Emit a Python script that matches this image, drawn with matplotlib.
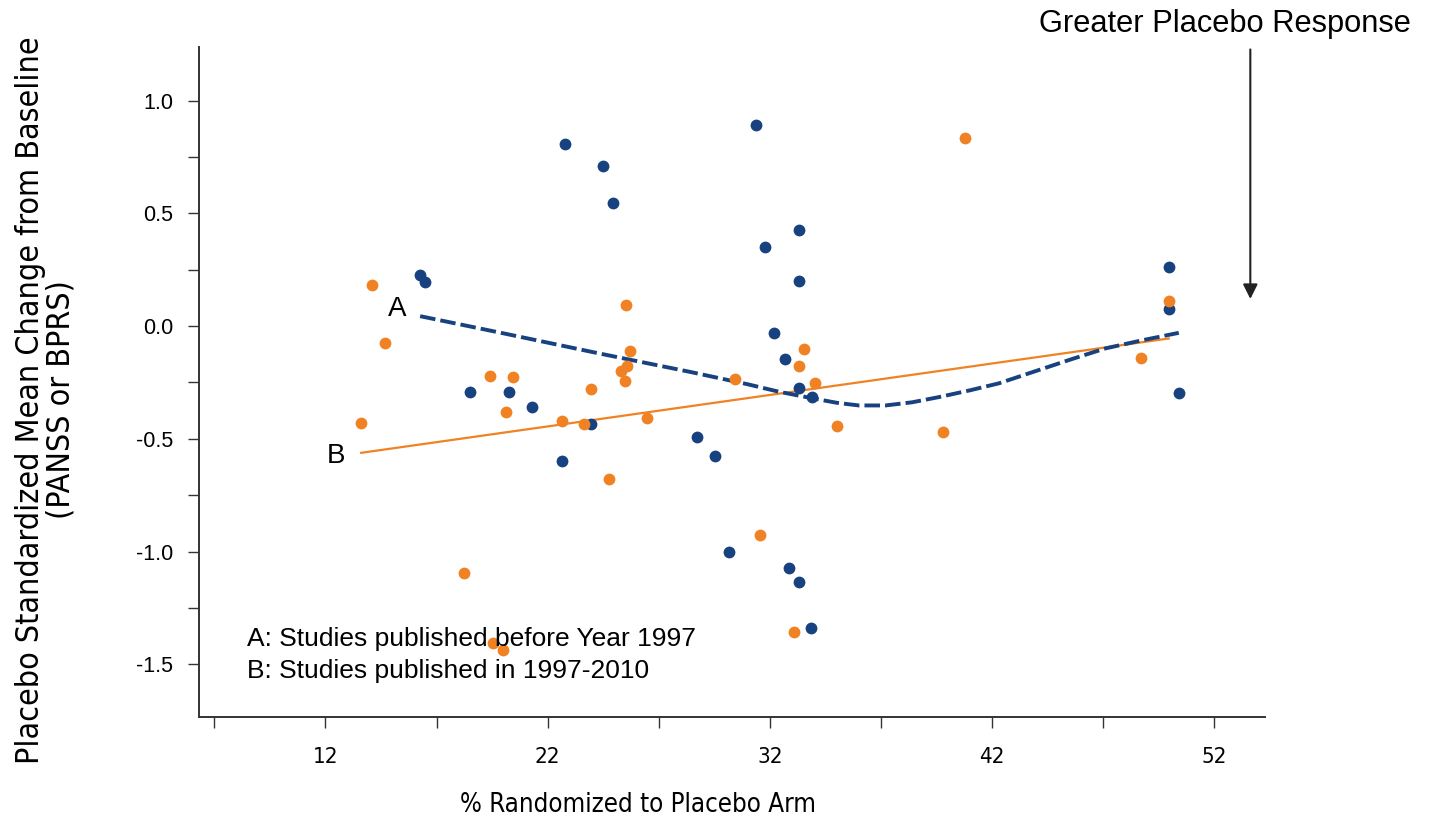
import matplotlib
matplotlib.use("Agg")
import matplotlib.pyplot as plt
from matplotlib.ticker import MultipleLocator

# studies published before 1997 (A)
pct_a = [22.78, 24.47, 24.96, 16.26, 16.48, 18.52, 20.27, 31.39, 33.31, 31.78,
         33.31, 32.20, 32.70, 33.31, 33.91, 21.31, 23.93, 22.66, 28.70, 29.52,
         30.15, 32.86, 33.31, 33.84, 49.96, 49.96, 50.41]
smc_a = [0.807, 0.711, 0.546, 0.226, 0.195, -0.291, -0.291, 0.891, 0.428, 0.350,
         0.201, -0.030, -0.146, -0.274, -0.313, -0.360, -0.435, -0.600, -0.493, -0.577,
         -1.003, -1.074, -1.134, -1.339, 0.260, 0.075, -0.295]

# studies published 1997-2010 (B)
pct_b = [14.10, 25.52, 14.68, 25.70, 25.58, 25.30, 25.48, 19.39, 20.42, 23.96,
         40.78, 33.54, 33.31, 30.44, 34.05, 20.14, 13.61, 22.64, 23.62, 26.45,
         24.76, 18.24, 19.54, 20.00, 35.01, 39.77, 31.55, 33.09, 49.96, 48.70]
smc_b = [0.183, 0.094, -0.077, -0.112, -0.175, -0.198, -0.243, -0.220, -0.224, -0.280,
         0.832, -0.102, -0.175, -0.235, -0.251, -0.381, -0.428, -0.419, -0.434, -0.409,
         -0.678, -1.097, -1.404, -1.437, -0.445, -0.469, -0.928, -1.355, 0.111, -0.140]

# fitted curves
fit_a_x = [16.26, 20.0, 24.3, 28.4, 31.0, 32.4, 33.9, 35.0, 36.0, 37.2, 38.4,
           39.6, 41.0, 42.3, 44.1, 45.6, 47.1, 48.8, 50.4]
fit_a_y = [0.044, -0.032, -0.121, -0.203, -0.258, -0.291, -0.320, -0.340, -0.352, -0.352, -0.338,
           -0.315, -0.285, -0.254, -0.195, -0.146, -0.099, -0.062, -0.030]
fit_b_x = [13.61, 49.95]
fit_b_y = [-0.562, -0.055]

x_ticks = [12, 22, 32, 42, 52]
x_minor = [7, 17, 27, 37, 47]
y_ticks = [1.0, 0.5, 0.0, -0.5, -1.0, -1.5]

blue = "#17417f"
orange = "#f08223"
arial = ["Liberation Sans", "DejaVu Sans"]
narrow = dict(family="DejaVu Sans", stretch="condensed")

fig = plt.figure(figsize=(14.37, 8.23), dpi=100)
ax = fig.add_axes([0.1388, 0.1292, 0.8803 - 0.1388, 0.9433 - 0.1292])

ax.plot(fit_b_x, fit_b_y, color=orange, lw=1.6, zorder=2)
ax.plot(fit_a_x, fit_a_y, color=blue, lw=2.8, dashes=(4.0, 1.3), zorder=2)
ax.plot(pct_a, smc_a, "o", color=blue, ms=8.5, mec="none", zorder=3)
ax.plot(pct_b, smc_b, "o", color=orange, ms=8.5, mec="none", zorder=3)

ax.set_xlim(6.33, 54.28)
ax.set_ylim(-1.732, 1.239)

ax.spines["top"].set_visible(False)
ax.spines["right"].set_visible(False)
for s in ["left", "bottom"]:
    ax.spines[s].set_linewidth(1.4)
    ax.spines[s].set_color("#333333")

ax.set_xticks(x_ticks)
ax.set_xticks(x_minor, minor=True)
ax.set_xticklabels([str(t) for t in x_ticks], fontsize=16, **narrow)
ax.set_yticks(y_ticks)
ax.yaxis.set_minor_locator(MultipleLocator(0.25))
ax.set_yticklabels(["%.1f" % t for t in y_ticks], family=arial, fontsize=15.5)
ax.tick_params(which="both", direction="out", length=8, width=1, color="#333333")
ax.tick_params(axis="x", pad=14)
ax.tick_params(axis="y", pad=11)

ax.text(15.22, 0.074, "A", fontsize=20, family=arial, ha="center", va="center")
ax.text(12.49, -0.578, "B", fontsize=20, family=arial, ha="center", va="center")
ax.text(8.45, -1.389, "A: Studies published before Year 1997", fontsize=19,
        family=arial, ha="left", va="center", zorder=4)
ax.text(8.45, -1.53, "B: Studies published in 1997-2010", fontsize=19,
        family=arial, ha="left", va="center", zorder=4)

ax.annotate("", xy=(53.62, 0.108), xytext=(53.62, 1.239),
            arrowprops=dict(arrowstyle="-|>", lw=1.5, color="#222222", mutation_scale=22),
            annotation_clip=False)

fig.text(0.8525, 0.971, "Greater Placebo Response", fontsize=22.2, family=arial,
         ha="center", va="center")
fig.text(0.444, 0.022, "% Randomized to Placebo Arm", fontsize=18.5,
         ha="center", va="center", **narrow)
fig.text(0.032, 0.514, "Placebo Standardized Mean Change from Baseline\n(PANSS or BPRS)",
         fontsize=23, rotation=90, ha="center", va="center",
         multialignment="center", linespacing=1.0, **narrow)

fig.savefig("out.png", dpi=100)
